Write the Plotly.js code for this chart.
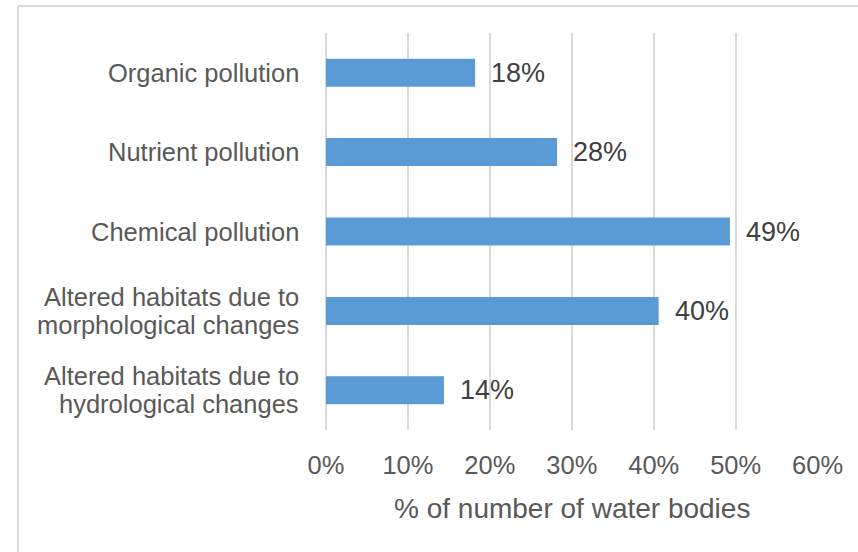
<!DOCTYPE html>
<html>
<head>
<meta charset="utf-8">
<script src="https://cdn.plot.ly/plotly-3.0.1.min.js"></script>
<style>
html,body{margin:0;padding:0;background:#fff;}
#chart{width:858px;height:552px;}
</style>
</head>
<body>
<div id="chart"></div>
<script>
// Data (top to bottom)
const categories = [
  "Organic pollution",
  "Nutrient pollution",
  "Chemical pollution",
  "Altered habitats due to\nmorphological changes",
  "Altered habitats due to\nhydrological changes"
];
const values = [18.2, 28.2, 49.3, 40.6, 14.4];
const dataLabels = ["18%", "28%", "49%", "40%", "14%"];
const tickValues = [0, 10, 20, 30, 40, 50, 60];
const tickLabels = ["0%", "10%", "20%", "30%", "40%", "50%", "60%"];
const xTitle = "% of number of water bodies";

const W = 858, H = 552;
const M = {l: 326, r: 40, t: 33, b: 122};
const FONT = "Liberation Sans, Arial, sans-serif";
const textGray = "#595959";
const gridGray = "#d9d9d9";

const trace = {
  type: "bar",
  orientation: "h",
  x: values,
  y: categories,
  marker: {color: "#5b9bd5"},
  hoverinfo: "skip"
};

const annotations = [];
categories.forEach((cat) => {
  const lines = cat.split("\n");
  const n = lines.length;
  lines.forEach((ln, i) => {
    annotations.push({
      xref: "paper", yref: "y", x: 0, y: cat,
      xanchor: "right", yanchor: "middle",
      xshift: -26, yshift: ((n - 1) / 2 - i) * 28,
      text: ln, showarrow: false, borderpad: 0,
      font: {family: FONT, size: 25.5, color: textGray}
    });
  });
});
values.forEach((v, i) => {
  annotations.push({
    xref: "x", yref: "y", x: v, y: categories[i],
    xanchor: "left", yanchor: "middle", xshift: 14,
    text: dataLabels[i], showarrow: false,
    font: {family: FONT, size: 27, color: "#404040"}
  });
});
annotations.push({
  xref: "paper", yref: "paper", x: 0.5, y: 0,
  xanchor: "center", yanchor: "middle", yshift: -78,
  text: xTitle, showarrow: false,
  font: {family: FONT, size: 28, color: textGray}
});

// border frame (top and left visible)
const pw = W - M.l - M.r, ph = H - M.t - M.b;
const px = (x) => (x - M.l) / pw;
const py = (y) => 1 - (y - M.t) / ph;
const shapes = [
  {type: "line", xref: "paper", yref: "paper", x0: px(18), x1: px(W + 5), y0: py(6), y1: py(6), line: {color: gridGray, width: 2}},
  {type: "line", xref: "paper", yref: "paper", x0: px(18), x1: px(18), y0: py(6), y1: py(H + 5), line: {color: gridGray, width: 2}}
];

const layout = {
  width: W, height: H,
  margin: M,
  paper_bgcolor: "#fff", plot_bgcolor: "#fff",
  showlegend: false,
  bargap: 0.647,
  xaxis: {
    range: [0, 60.05],
    tickvals: tickValues, ticktext: tickLabels,
    showgrid: true, gridcolor: gridGray, gridwidth: 2,
    zeroline: true, zerolinecolor: gridGray, zerolinewidth: 2,
    showline: false, ticks: "",
    ticklabelstandoff: 17,
    tickfont: {family: FONT, size: 25.5, color: textGray},
    fixedrange: true
  },
  yaxis: {
    autorange: "reversed",
    showticklabels: false, showgrid: false, zeroline: false, showline: false, ticks: "",
    fixedrange: true
  },
  annotations: annotations,
  shapes: shapes
};

Plotly.newPlot("chart", [trace], layout, {displayModeBar: false, staticPlot: true});
</script>
</body>
</html>
